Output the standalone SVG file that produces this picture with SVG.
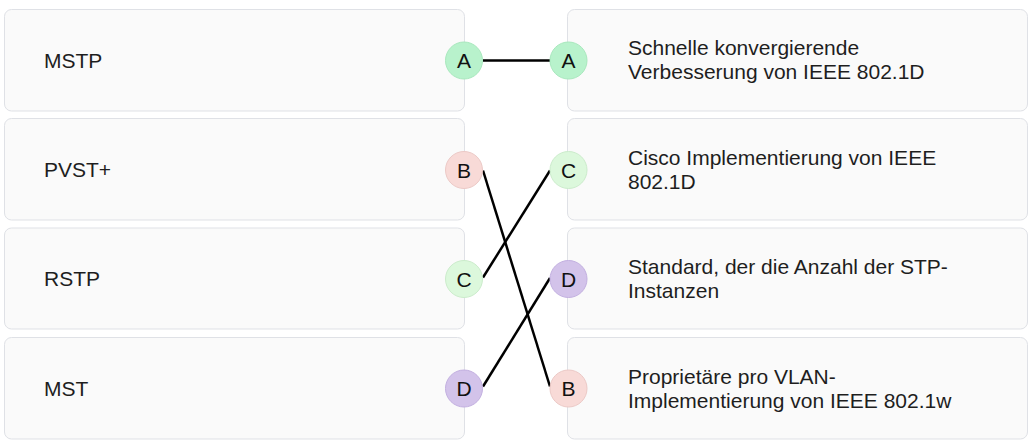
<svg xmlns="http://www.w3.org/2000/svg" width="1031" height="446" viewBox="0 0 1031 446">
<style>
.box{fill:#fafafa;stroke:#dfe1e6;stroke-width:1}
.lbl{font-family:"Liberation Sans",Arial,sans-serif;font-size:21px;fill:#1e1e1e}
.let{font-family:"Liberation Sans",Arial,sans-serif;font-size:21px;fill:#111;text-anchor:middle}
.ca{fill:#b8f2cc;stroke:#a8e8bd}
.cb{fill:#f8dad7;stroke:#ecc9c6}
.cc{fill:#dcf8dc;stroke:#cbeccb}
.cd{fill:#d3c3ea;stroke:#c2afe0}
.conn{stroke:#000;stroke-width:2.5;fill:none}
</style>
<rect width="1031" height="446" fill="#fff"/>
<g id="left-MSTP"><rect class="box" x="4.5" y="9.5" width="460" height="101.5" rx="7"/><text class="lbl" x="44" y="67.5">MSTP</text></g>
<g id="left-PVST"><rect class="box" x="4.5" y="118.5" width="460" height="101.5" rx="7"/><text class="lbl" x="44" y="176.5">PVST+</text></g>
<g id="left-RSTP"><rect class="box" x="4.5" y="228" width="460" height="101" rx="7"/><text class="lbl" x="44" y="286">RSTP</text></g>
<g id="left-MST"><rect class="box" x="4.5" y="337.5" width="460" height="101.5" rx="7"/><text class="lbl" x="44" y="395.5">MST</text></g>
<g id="right-A"><rect class="box" x="567.5" y="9.5" width="460" height="101.5" rx="7"/><text class="lbl" x="628" y="55">Schnelle konvergierende</text><text class="lbl" x="628" y="79">Verbesserung von IEEE 802.1D</text></g>
<g id="right-C"><rect class="box" x="567.5" y="118.5" width="460" height="101.5" rx="7"/><text class="lbl" x="628" y="165">Cisco Implementierung von IEEE</text><text class="lbl" x="628" y="189">802.1D</text></g>
<g id="right-D"><rect class="box" x="567.5" y="228" width="460" height="101" rx="7"/><text class="lbl" x="628" y="273.5">Standard, der die Anzahl der STP-</text><text class="lbl" x="628" y="297.5">Instanzen</text></g>
<g id="right-B"><rect class="box" x="567.5" y="337.5" width="460" height="101.5" rx="7"/><text class="lbl" x="628" y="383.5">Proprietäre pro VLAN-</text><text class="lbl" x="628" y="407.5">Implementierung von IEEE 802.1w</text></g>
<g id="connectors">
<line class="conn" x1="483" y1="60.5" x2="550" y2="60.5"/>
<line class="conn" x1="483" y1="170.5" x2="550" y2="386.5"/>
<line class="conn" x1="483" y1="277.5" x2="550" y2="170.5"/>
<line class="conn" x1="483" y1="386.5" x2="550" y2="278"/>
</g>
<g id="badge-left-A"><circle class="ca" cx="464" cy="60.5" r="18.5"/><text class="let" x="464" y="68">A</text></g>
<g id="badge-left-B"><circle class="cb" cx="464" cy="170" r="18.5"/><text class="let" x="464" y="177.5">B</text></g>
<g id="badge-left-C"><circle class="cc" cx="464" cy="279" r="18.5"/><text class="let" x="464" y="286.5">C</text></g>
<g id="badge-left-D"><circle class="cd" cx="464" cy="388.5" r="18.5"/><text class="let" x="464" y="396">D</text></g>
<g id="badge-right-A"><circle class="ca" cx="568.5" cy="60.5" r="18.5"/><text class="let" x="568.5" y="68">A</text></g>
<g id="badge-right-C"><circle class="cc" cx="568.5" cy="170" r="18.5"/><text class="let" x="568.5" y="177.5">C</text></g>
<g id="badge-right-D"><circle class="cd" cx="568.5" cy="279" r="18.5"/><text class="let" x="568.5" y="286.5">D</text></g>
<g id="badge-right-B"><circle class="cb" cx="568.5" cy="388.5" r="18.5"/><text class="let" x="568.5" y="396">B</text></g>
</svg>
